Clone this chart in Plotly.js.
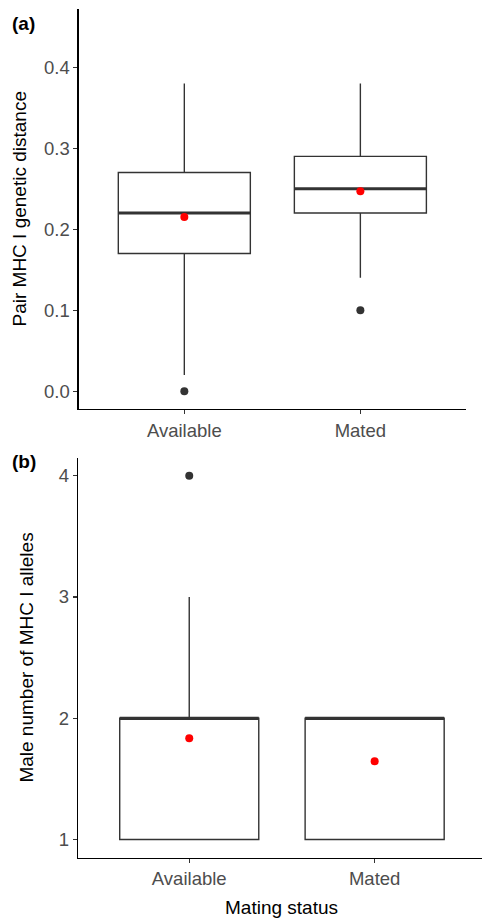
<!DOCTYPE html>
<html>
<head>
<meta charset="utf-8">
<script src="https://cdn.plot.ly/plotly-3.0.1.min.js"></script>
<style>html,body{margin:0;padding:0;background:#fff;}#chart{width:482px;height:919px;}</style>
</head>
<body>
<div id="chart"></div>
<script>
// ---- Data ----
const categories = ['Available', 'Mated'];

// Panel (a): Pair MHC I genetic distance
const distQ1 = [0.17, 0.22];
const distMedian = [0.22, 0.25];
const distQ3 = [0.27, 0.29];
const distLowerWhisker = [0.02, 0.14];
const distUpperWhisker = [0.38, 0.38];
const distMean = [0.215, 0.247];
const distOutlierCats = ['Available', 'Mated'];
const distOutliers = [0.0, 0.10];
const distTicks = [0.0, 0.1, 0.2, 0.3, 0.4];

// Panel (b): Male number of MHC I alleles
const alleleQ1 = [1, 1];
const alleleMedian = [2, 2];
const alleleQ3 = [2, 2];
const alleleLowerWhisker = [1, 1];
const alleleUpperWhisker = [3, 2];
const alleleMean = [1.835, 1.645];
const alleleOutlierCats = ['Available'];
const alleleOutliers = [4];
const alleleTicks = [1, 2, 3, 4];

// ---- Helpers ----
const pos = c => categories.indexOf(c) + 1;
const catPos = categories.map(pos);
const BOXW = 0.75;
const FONT = 'Liberation Sans, Arial, sans-serif';
const boxLine = '#333333';

function medianLine(medians, xa, ya) {
  const xs = [], ys = [];
  categories.forEach((c, i) => {
    xs.push(pos(c) - BOXW / 2, pos(c) + BOXW / 2, null);
    ys.push(medians[i], medians[i], null);
  });
  return {type: 'scatter', mode: 'lines', x: xs, y: ys, xaxis: xa, yaxis: ya,
          line: {color: boxLine, width: 3}, hoverinfo: 'skip', showlegend: false};
}

function panel(q1, med, q3, lo, hi, mean, outCats, outs, xa, ya) {
  return [
    {type: 'box', x: catPos, q1: q1, median: med, q3: q3, lowerfence: lo, upperfence: hi,
     width: BOXW, whiskerwidth: 0, boxpoints: false, fillcolor: 'white',
     line: {color: boxLine, width: 1.4}, xaxis: xa, yaxis: ya, showlegend: false},
    medianLine(med, xa, ya),
    {type: 'scatter', mode: 'markers', x: outCats.map(pos), y: outs, xaxis: xa, yaxis: ya,
     marker: {color: '#333333', size: 8}, showlegend: false},
    {type: 'scatter', mode: 'markers', x: catPos, y: mean, xaxis: xa, yaxis: ya,
     marker: {color: '#ff0000', size: 8}, showlegend: false}
  ];
}

const data = [].concat(
  panel(distQ1, distMedian, distQ3, distLowerWhisker, distUpperWhisker, distMean, distOutlierCats, distOutliers, 'x', 'y'),
  panel(alleleQ1, alleleMedian, alleleQ3, alleleLowerWhisker, alleleUpperWhisker, alleleMean, alleleOutlierCats, alleleOutliers, 'x2', 'y2')
);

const W = 482, H = 919;
const axisCommon = {
  showline: true, linecolor: '#000000', linewidth: 1.3, showgrid: false, zeroline: false,
  ticks: 'outside', ticklen: 4, tickwidth: 1.2, tickcolor: '#333333',
  tickfont: {family: FONT, size: 18.5, color: '#4d4d4d'}, fixedrange: true
};

const layout = {
  width: W, height: H, paper_bgcolor: 'white', plot_bgcolor: 'white',
  margin: {l: 0, r: 0, t: 0, b: 0}, showlegend: false,
  font: {family: FONT},
  xaxis: Object.assign({}, axisCommon, {domain: [78.7 / W, 466 / W], anchor: 'y', range: [0.4, 2.6],
    tickvals: catPos, ticktext: categories}),
  yaxis: Object.assign({}, axisCommon, {domain: [1 - 409 / H, 1 - 9 / H], anchor: 'x', range: [-0.022, 0.472],
    tickvals: distTicks, tickformat: '.1f'}),
  xaxis2: Object.assign({}, axisCommon, {domain: [78 / W, 1], anchor: 'y2', range: [0.4, 2.579],
    tickvals: catPos, ticktext: categories}),
  yaxis2: Object.assign({}, axisCommon, {domain: [1 - 857.7 / H, 1 - 457.5 / H], anchor: 'x2', range: [0.85, 4.15],
    tickvals: alleleTicks}),
  annotations: [
    {text: '<b>(a)</b>', xref: 'paper', yref: 'paper', x: 23.5 / W, y: 1 - 23.3 / H, showarrow: false,
     xanchor: 'center', yanchor: 'middle', font: {family: FONT, size: 19, color: '#000'}},
    {text: '<b>(b)</b>', xref: 'paper', yref: 'paper', x: 24 / W, y: 1 - 461.7 / H, showarrow: false,
     xanchor: 'center', yanchor: 'middle', font: {family: FONT, size: 19, color: '#000'}},
    {text: 'Pair MHC I genetic distance', xref: 'paper', yref: 'paper', x: 19.5 / W, y: 1 - 209 / H,
     textangle: -90, showarrow: false, xanchor: 'center', yanchor: 'middle',
     font: {family: FONT, size: 19, color: '#000'}},
    {text: 'Male number of MHC I alleles', xref: 'paper', yref: 'paper', x: 27 / W, y: 1 - 657.6 / H,
     textangle: -90, showarrow: false, xanchor: 'center', yanchor: 'middle',
     font: {family: FONT, size: 19, color: '#000'}},
    {text: 'Mating status', xref: 'paper', yref: 'paper', x: 281.7 / W, y: 1 - 907 / H,
     showarrow: false, xanchor: 'center', yanchor: 'middle',
     font: {family: FONT, size: 19, color: '#000'}}
  ]
};

Plotly.newPlot('chart', data, layout, {staticPlot: true, displayModeBar: false});
</script>
</body>
</html>
